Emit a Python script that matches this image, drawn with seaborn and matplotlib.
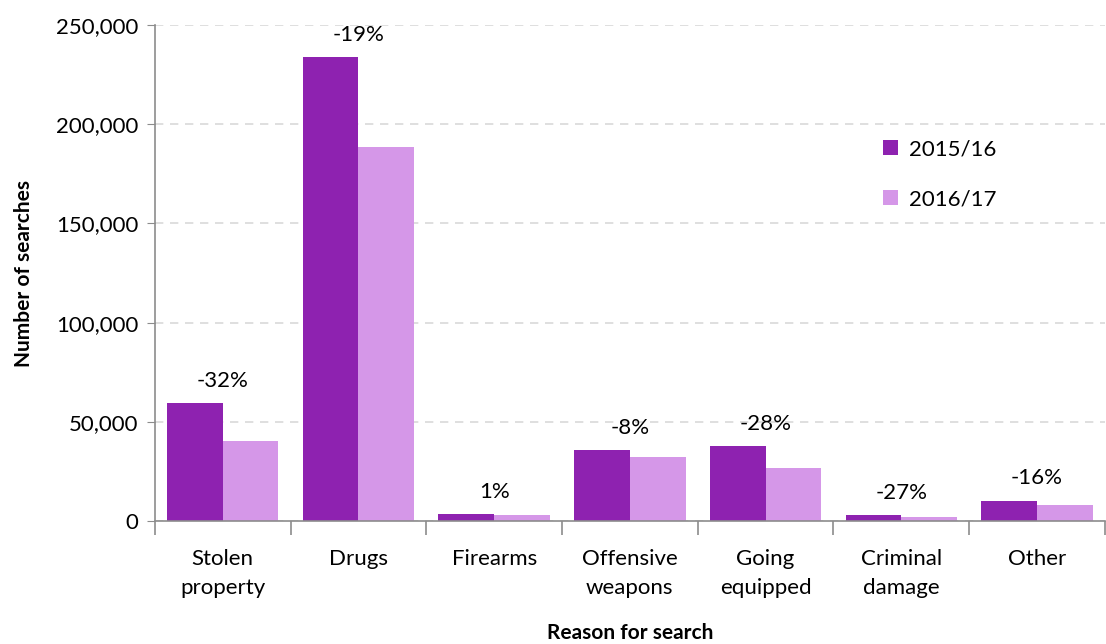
import pandas as pd
import seaborn as sns
import matplotlib.pyplot as plt
from matplotlib.ticker import FuncFormatter, FixedLocator

reasons = ['Stolen\nproperty', 'Drugs', 'Firearms', 'Offensive\nweapons',
           'Going\nequipped', 'Criminal\ndamage', 'Other']
searches_2015 = [59300, 233700, 3500, 35600, 37800, 3000, 10100]
searches_2016 = [40200, 188500, 3000, 32300, 26700, 1900, 8100]
pct_change = ['-32%', '-19%', '1%', '-8%', '-28%', '-27%', '-16%']
years = ['2015/16', '2016/17']

df = pd.DataFrame({
    'reason': reasons * 2,
    'year': [years[0]] * 7 + [years[1]] * 7,
    'searches': searches_2015 + searches_2016,
})

sns.set_style('white')
plt.rcParams['font.family'] = ['Lato', 'DejaVu Sans']
plt.rcParams['text.color'] = 'black'
plt.rcParams['xtick.color'] = 'black'
plt.rcParams['ytick.color'] = 'black'
plt.rcParams['axes.labelcolor'] = 'black'

fig = plt.figure(figsize=(11.06, 6.44), dpi=100)
ax = fig.add_axes([0.140, 0.191, 0.859, 0.770])

sns.barplot(data=df, x='reason', y='searches', hue='year',
            palette=['#8e22b0', '#d597e8'], width=0.82, ax=ax,
            saturation=1, edgecolor='none')

ax.set_ylim(0, 250000)
ax.set_xlim(-0.5, 6.5)
ax.yaxis.set_major_formatter(FuncFormatter(lambda v, p: f'{int(v):,}'))
ax.set_yticks(range(0, 250001, 50000))
ax.grid(axis='y', color='#d9d9d9', linestyle=(0, (5, 4)), linewidth=1.2)
ax.set_axisbelow(True)

for side in ['top', 'right']:
    ax.spines[side].set_visible(False)
for side in ['left', 'bottom']:
    ax.spines[side].set_color('#8c8c8c')
    ax.spines[side].set_linewidth(1.2)

ax.tick_params(axis='y', length=6, color='#8c8c8c', labelsize=16, pad=6, left=True)
ax.tick_params(axis='x', which='major', length=0, labelsize=16, pad=20)
for t in ax.get_xticklabels():
    t.set_linespacing(1.6)
ax.xaxis.set_minor_locator(FixedLocator([i - 0.5 for i in range(8)]))
ax.tick_params(axis='x', which='minor', length=10, color='#8c8c8c', width=1.2, bottom=True)

for i, lab in enumerate(pct_change):
    top = max(searches_2015[i], searches_2016[i])
    ax.annotate(lab, (i, top), xytext=(0, 9), textcoords='offset points',
                ha='center', va='bottom', fontsize=16)

ax.set_xlabel('Reason for search', fontsize=15, fontweight='bold', labelpad=18)
ax.set_ylabel('Number of searches', fontsize=15, fontweight='bold', labelpad=16)

ax.legend(title=None, frameon=False, loc='upper left', bbox_to_anchor=(0.745, 0.81),
          fontsize=16, handlelength=0.7, handleheight=0.7, labelspacing=1.35,
          handletextpad=0.5)

plt.savefig('out.png', dpi=100)
